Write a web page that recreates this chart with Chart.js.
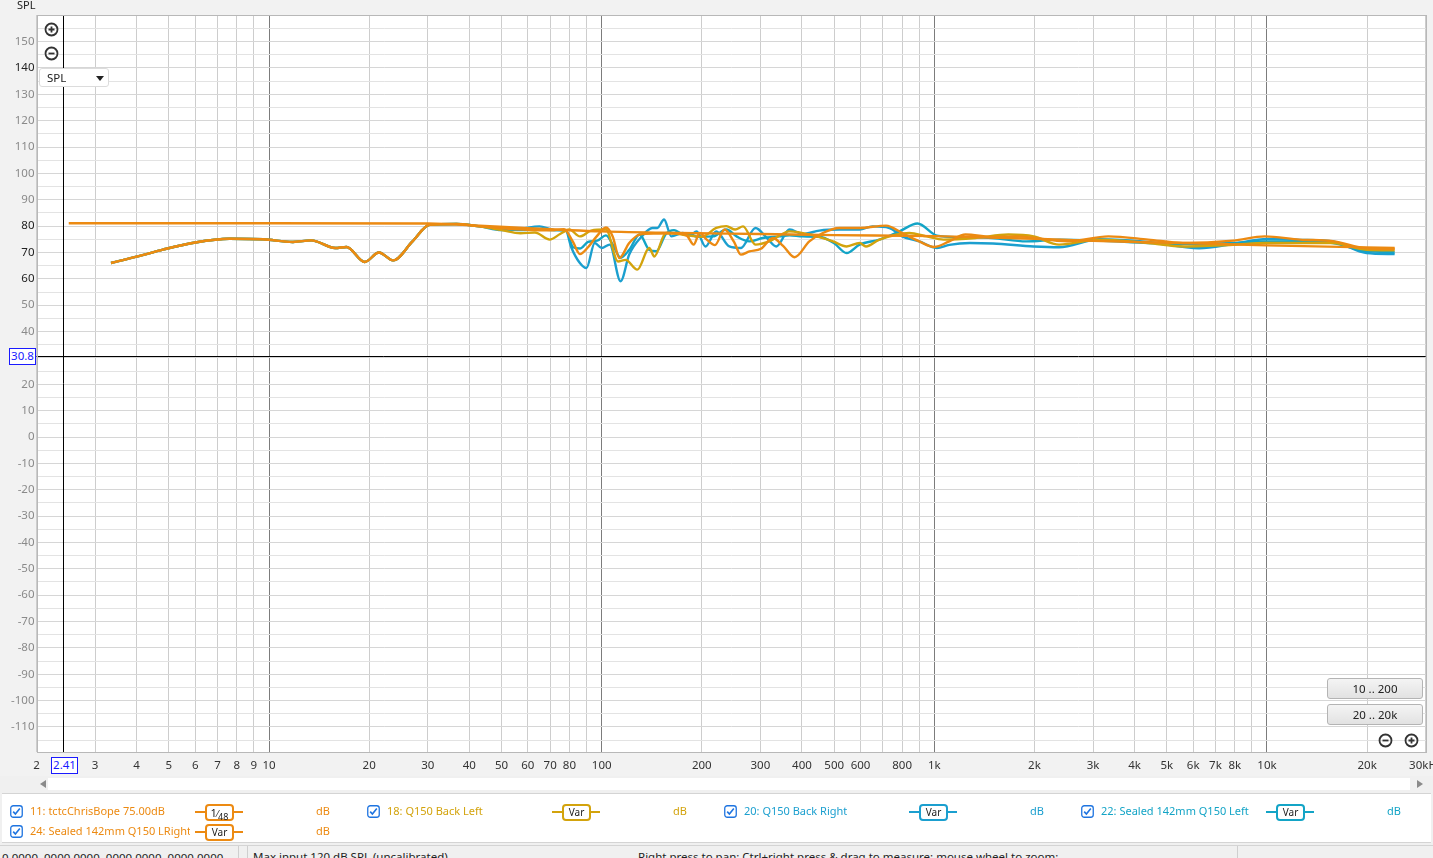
<!DOCTYPE html>
<html>
<head>
<meta charset="utf-8">
<script src="https://cdn.jsdelivr.net/npm/chart.js@4.4.1/dist/chart.umd.min.js"></script>
<style>
  html, body { margin: 0; padding: 0; }
  body { width: 1433px; height: 858px; overflow: hidden; background: #f0f0f0; position: relative;
         font-family: "Noto Sans", "Open Sans", sans-serif; font-size: 11px; color: #222; }
  .abs { position: absolute; }
  #wrap { left: 0; top: 0; width: 1433px; height: 776px; }
  .title { left: 17px; top: -3px; font-size: 11px; }
  .ico { width: 15px; height: 15px; }
  .dropdown { left: 39px; top: 68px; width: 70px; height: 19px; background: #fff; border: 1px solid #dcdcdc;
              border-radius: 3px; box-sizing: border-box; }
  .dropdown span { position: absolute; left: 7px; top: 1px; font-size: 11.5px; }
  .dropdown i { position: absolute; left: 56px; top: 7px; width: 0; height: 0; border-left: 4px solid transparent;
                border-right: 4px solid transparent; border-top: 5px solid #222; }
  .cursorbox { background: #fff; border: 1px solid #1a1aff; color: #1a1aff; box-sizing: border-box;
               text-align: center; font-size: 11.5px; line-height: 14px; }
  .btn { left: 1327px; width: 96px; height: 21px; box-sizing: border-box; border: 1px solid #b4b4b4; border-radius: 3px;
         background: linear-gradient(#f4f4f4, #e2e2e2); text-align: center; line-height: 19px; font-size: 11.5px; }
  .scroll { left: 48px; top: 778px; width: 1362px; height: 12px; background: #fff; }
  .arrow { top: 780px; width: 0; height: 0; border-top: 4px solid transparent; border-bottom: 4px solid transparent; }
  .panel { left: 2px; top: 793px; width: 1429px; height: 48px; background: #fff; border-top: 1px solid #d4d4d4;
           border-bottom: 1px solid #d4d4d4; }
  .chk { width: 13px; height: 13px; }
  .name { white-space: nowrap; overflow: hidden; }
  .stub { height: 2px; }
  .sbox { height: 17px; border: 2px solid; border-radius: 4px; background: #fff; box-sizing: border-box;
          text-align: center; font-size: 10px; line-height: 13px; color: #222; }
  .status { left: 0; top: 845px; width: 1433px; height: 13px; border-top: 1px solid #d4d4d4; background: #f0f0f0; }
  .status span { position: absolute; top: 3px; white-space: nowrap; font-size: 11.5px; }
  .sep { top: 846px; width: 1px; height: 12px; background: #cfcfcf; }
</style>
</head>
<body>
<div id="wrap" class="abs"><canvas id="splChart" width="1433" height="776"></canvas></div>

<div class="abs title">SPL</div>
<svg class="abs ico" style="left:44px;top:22px" viewBox="0 0 15 15"><circle cx="7.5" cy="7.5" r="6" fill="none" stroke="#333" stroke-width="1.8"/><path d="M4.5 7.5h6M7.5 4.5v6" stroke="#333" stroke-width="1.8"/></svg>
<svg class="abs ico" style="left:44px;top:46px" viewBox="0 0 15 15"><circle cx="7.5" cy="7.5" r="6" fill="none" stroke="#333" stroke-width="1.8"/><path d="M4.5 7.5h6" stroke="#333" stroke-width="1.8"/></svg>
<div class="abs dropdown"><span>SPL</span><i></i></div>

<div class="abs cursorbox" style="left:9px;top:348px;width:27px;height:17px">30.8</div>
<div class="abs cursorbox" style="left:51px;top:757px;width:27px;height:17px">2.41</div>

<div class="abs btn" style="top:678px">10 .. 200</div>
<div class="abs btn" style="top:704px">20 .. 20k</div>
<svg class="abs ico" style="left:1378px;top:733px" viewBox="0 0 15 15"><circle cx="7.5" cy="7.5" r="6" fill="none" stroke="#333" stroke-width="1.8"/><path d="M4.5 7.5h6" stroke="#333" stroke-width="1.8"/></svg>
<svg class="abs ico" style="left:1404px;top:733px" viewBox="0 0 15 15"><circle cx="7.5" cy="7.5" r="6" fill="none" stroke="#333" stroke-width="1.8"/><path d="M4.5 7.5h6M7.5 4.5v6" stroke="#333" stroke-width="1.8"/></svg>

<div class="abs scroll"></div>
<div class="abs arrow" style="left:40px;border-right:6px solid #8a8a8a"></div>
<div class="abs arrow" style="left:1417px;border-left:6px solid #8a8a8a"></div>

<div class="abs panel"></div>
<div id="legend"></div>

<div class="abs status">
  <span style="left:2px;top:4px">0.0000, 0000.0000, 0000.0000, 0000.0000</span>
  <span style="left:253px">Max input 120 dB SPL (uncalibrated)</span>
  <span style="left:638px">Right press to pan; Ctrl+right press &amp; drag to measure; mouse wheel to zoom;</span>
</div>
<div class="abs sep" style="left:238px"></div>
<div class="abs sep" style="left:247px"></div>
<div class="abs sep" style="left:1237px"></div>

<script>
// ----------------------------------------------------
// Data
// ----------------------------------------------------
const xTicks = [2, 3, 4, 5, 6, 7, 8, 9, 10, 20, 30, 40, 50, 60, 70, 80, 90, 100, 200, 300, 400, 500, 600, 700, 800, 900,
                1000, 2000, 3000, 4000, 5000, 6000, 7000, 8000, 9000, 10000, 20000, 30000];
const xLabelled = [2, 3, 4, 5, 6, 7, 8, 9, 10, 20, 30, 40, 50, 60, 70, 80, 100, 200, 300, 400, 500, 600, 800,
                   1000, 2000, 3000, 4000, 5000, 6000, 7000, 8000, 10000, 20000, 30000];
const yLabels = [150, 140, 130, 120, 110, 100, 90, 80, 70, 60, 50, 40, 20, 10, 0, -10, -20, -30, -40, -50,
                 -60, -70, -80, -90, -100, -110];
const yDarkLabels = [140, 80, 70, 60];

// low end shared by all four measurements (sub region)
const lfFreq = [3.35, 4, 4.8, 6, 7.6, 9.6, 11.8, 13.4, 15.8, 17.1, 19.4, 21.4, 23.6, 27, 30.4, 36.6];
const lfDb   = [66.0, 68.4, 71.1, 73.8, 75.2, 75.0, 74.0, 74.6, 71.7, 72.1, 66.4, 70.0, 67.0, 74.2, 80.5, 80.8];

// 11: tctcChrisBope 75.00dB
const s11Freq = [2.5, 10, 30, 43, 60, 100, 171, 300, 500, 1000, 1366, 2000, 3000, 5500, 10000, 24200];
const s11Db   = [81.1, 81.1, 81.0, 80.2, 79.2, 78.0, 77.4, 77.0, 76.6, 76.2, 75.8, 75.2, 74.4, 73.6, 72.7, 71.7];

// 24: Sealed 142mm Q150 LRight
const s24Freq = [43, 50, 60, 70, 77, 82, 86, 91, 96.6, 103, 108, 113, 121, 130, 145, 165, 180, 189, 197, 207, 219,
                 234, 250, 262, 278, 301, 327, 351, 380, 421, 462, 518, 596, 716, 800, 901, 1000, 1109, 1240, 1500,
                 1770, 2513, 3337, 4392, 5590, 7921, 9840, 12560, 15780, 19900, 24200];
const s24Db   = [79.9, 79.2, 78.6, 78.4, 78.8, 74.0, 69.4, 72.0, 76.1, 79.5, 76.0, 67.9, 73.6, 76.8, 77.2, 77.3, 76.5,
                 73.0, 77.4, 74.9, 72.8, 78.7, 74.0, 69.2, 70.4, 71.4, 75.5, 72.5, 68.2, 74.2, 77.4, 79.3, 79.3, 80.2,
                 77.4, 74.2, 72.1, 74.2, 76.8, 75.9, 76.1, 74.2, 76.1, 74.9, 73.6, 74.5, 76.1, 74.9, 74.3, 71.6, 71.3];

// 18: Q150 Back Left
const s18Freq = [43, 50, 57, 63, 69.8, 75, 80, 86, 93, 103, 112, 118, 128, 139, 144, 156, 171, 181, 200, 221, 237,
                 252, 266, 290, 319, 367, 432, 496, 545, 596, 623, 684, 841, 947, 1066, 1330, 1670, 1990, 2372, 3126,
                 4392, 5590, 7921, 9840, 15780, 19900, 24200];
const s18Db   = [79.9, 78.5, 77.3, 77.6, 74.9, 77.0, 78.7, 76.1, 78.3, 78.7, 66.6, 67.2, 63.5, 71.7, 68.5, 77.4, 77.0,
                 76.5, 76.0, 79.3, 80.0, 78.7, 79.9, 73.0, 74.2, 78.0, 76.5, 74.2, 72.3, 73.6, 72.3, 74.9, 77.4, 76.1,
                 74.9, 75.5, 76.8, 76.1, 73.0, 74.9, 73.6, 72.3, 72.9, 73.6, 73.6, 71.0, 70.8];

// 20: Q150 Back Right
const s20Freq = [43, 50, 57, 65, 72, 78, 81, 86, 90, 95.3, 100, 105.7, 114, 121, 132, 142, 147, 154, 162, 175, 184,
                 193, 205, 221, 242, 262, 290, 314, 335, 367, 402, 451, 518, 596, 652, 733, 800, 901, 1018, 1109,
                 1280, 1500, 1990, 2372, 3126, 4392, 6250, 7962, 10000, 12560, 15780, 19900, 24200];
const s20Db   = [79.9, 78.5, 79.0, 79.9, 78.5, 78.3, 72.0, 66.0, 64.1, 73.6, 71.7, 73.0, 59.1, 69.2, 76.1, 79.3, 79.3,
                 82.5, 76.1, 77.4, 76.5, 78.0, 72.3, 78.0, 72.3, 71.7, 79.3, 75.5, 72.3, 78.7, 77.0, 78.3, 78.7, 78.7,
                 79.9, 79.3, 76.1, 74.2, 71.7, 72.9, 73.6, 73.4, 72.3, 72.0, 75.0, 74.0, 71.6, 73.3, 75.1, 74.8, 74.2,
                 69.8, 69.4];

// 22: Sealed 142mm Q150 Left
const s22Freq = [43, 50, 57, 65, 72, 78, 82, 86, 91, 97, 103, 108, 114, 121, 130, 139, 146, 156, 165, 175, 184, 193,
                 216, 237, 255, 278, 305, 342, 367, 402, 451, 500, 545, 596, 684, 785, 890, 1018, 1189, 1490, 1890,
                 2372, 3126, 4392, 5590, 7921, 9840, 12560, 15780, 19900, 24200];
const s22Db   = [79.9, 79.0, 78.5, 78.8, 78.5, 78.5, 72.0, 71.5, 74.0, 74.5, 76.5, 73.0, 68.0, 71.0, 76.8, 71.0, 70.5,
                 77.0, 78.5, 77.0, 77.0, 76.0, 76.1, 78.7, 76.0, 74.2, 75.5, 76.1, 76.5, 76.1, 76.0, 73.5, 69.8, 73.0,
                 74.9, 78.0, 81.0, 76.4, 75.8, 75.5, 74.2, 74.9, 74.5, 73.6, 73.2, 73.6, 74.2, 74.2, 73.6, 70.5, 70.1];

const ORANGE = '#ec8a12';
const GOLD = '#d3a30c';
const BLUE = '#1b9fcf';
const BLUE2 = '#13a4c6';

document.addEventListener('DOMContentLoaded', () => {

    // ----------------------------------------------------
    // 1. Legend strip (REW style measurement list)
    // ----------------------------------------------------
    const legendItems = [
        { label: '11: tctcChrisBope 75.00dB', color: ORANGE, smooth: '1/48', x: 10, y: 812 },
        { label: '18: Q150 Back Left', color: GOLD, smooth: 'Var', x: 367, y: 812 },
        { label: '20: Q150 Back Right', color: BLUE, smooth: 'Var', x: 724, y: 812 },
        { label: '22: Sealed 142mm Q150 Left', color: BLUE2, smooth: 'Var', x: 1081, y: 812 },
        { label: '24: Sealed 142mm Q150 LRight', color: ORANGE, smooth: 'Var', x: 10, y: 832 }
    ];
    const legend = document.getElementById('legend');
    legendItems.forEach(item => {
        const chk = `<svg class="abs chk" style="left:${item.x}px;top:${item.y - 7}px" viewBox="0 0 13 13">
            <rect x="0.75" y="0.75" width="11.5" height="11.5" rx="2.5" fill="#fff" stroke="#1e74e0" stroke-width="1.3"/>
            <path d="M3.2 6.6l2.2 2.4 4.4-5.4" fill="none" stroke="#1e74e0" stroke-width="1.6"/></svg>`;
        const name = `<div class="abs name" style="left:${item.x + 20}px;top:${item.y - 9}px;width:160px;color:${item.color}">${item.label}</div>`;
        const bx = item.x + 185;
        const stub = `<div class="abs stub" style="left:${bx}px;top:${item.y - 1}px;width:48px;background:${item.color}"></div>`;
        const txt = item.smooth === '1/48'
            ? '<span style="font-size:11px">1</span><span style="font-size:9px">&#8260;</span><span style="font-size:9px;position:relative;top:3px">48</span>'
            : 'Var';
        const box = `<div class="abs sbox" style="left:${bx + 10}px;top:${item.y - 8}px;width:29px;border-color:${item.color}">${txt}</div>`;
        const unit = `<div class="abs" style="left:${item.x + 306}px;top:${item.y - 9}px;color:${item.color}">dB</div>`;
        legend.insertAdjacentHTML('beforeend', chk + name + stub + box + unit);
    });

    // ----------------------------------------------------
    // 2. Chart.js SPL graph
    // ----------------------------------------------------
    Chart.defaults.font.family = "'Noto Sans', 'Open Sans', sans-serif";

    const toPoints = (freqs, dbs) => freqs.map((f, i) => ({ x: f, y: dbs[i] }));
    const measured = (freqs, dbs) => toPoints(lfFreq.concat(freqs), lfDb.concat(dbs));

    const line = (label, data, color) => ({
        label, data,
        borderColor: color,
        borderWidth: 2.4,
        pointRadius: 0,
        fill: false,
        cubicInterpolationMode: 'monotone'
    });

    // Background, plot frame and cursor cross-hair
    const rewFrame = {
        id: 'rewFrame',
        beforeDraw(chart) {
            const { ctx, chartArea: a } = chart;
            ctx.save();
            ctx.fillStyle = '#f2f2f2';
            ctx.fillRect(0, 0, chart.width, chart.height);
            ctx.fillStyle = '#ffffff';
            ctx.fillRect(a.left, a.top, a.right - a.left, a.bottom - a.top);
            ctx.restore();
        },
        beforeDatasetsDraw(chart) {
            const { ctx, chartArea: a, scales } = chart;
            const cx = Math.round(scales.x.getPixelForValue(2.41)) + 0.5;
            const cy = Math.round(scales.y.getPixelForValue(30.8)) + 0.5;
            ctx.save();
            ctx.strokeStyle = '#000';
            ctx.lineWidth = 1;
            ctx.beginPath();
            ctx.moveTo(cx, a.top); ctx.lineTo(cx, a.bottom);
            ctx.moveTo(a.left, cy); ctx.lineTo(a.right, cy);
            ctx.stroke();
            ctx.restore();
        },
        afterDraw(chart) {
            const { ctx, chartArea: a } = chart;
            ctx.save();
            ctx.strokeStyle = '#b8b8b8';
            ctx.lineWidth = 1;
            ctx.strokeRect(Math.round(a.left) + 0.5, Math.round(a.top) + 0.5,
                           Math.round(a.right - a.left), Math.round(a.bottom - a.top));
            ctx.restore();
        }
    };

    const ctx = document.getElementById('splChart');
    new Chart(ctx, {
        type: 'line',
        data: {
            datasets: [
                line('24: Sealed 142mm Q150 LRight', measured(s24Freq, s24Db), ORANGE),
                line('11: tctcChrisBope 75.00dB', toPoints(s11Freq, s11Db), ORANGE),
                line('18: Q150 Back Left', measured(s18Freq, s18Db), GOLD),
                line('22: Sealed 142mm Q150 Left', measured(s22Freq, s22Db), BLUE2),
                line('20: Q150 Back Right', measured(s20Freq, s20Db), BLUE)
            ]
        },
        options: {
            responsive: false,
            animation: false,
            devicePixelRatio: 1,
            events: [],
            layout: { padding: { top: 15, right: 7.3, left: 0, bottom: 0 } },
            plugins: { legend: { display: false }, tooltip: { enabled: false } },
            scales: {
                x: {
                    type: 'logarithmic',
                    min: 2,
                    max: 30000,
                    afterBuildTicks: s => { s.ticks = xTicks.map(v => ({ value: v })); },
                    afterFit: s => { s.height = 24; s.paddingLeft = 0; s.paddingRight = 0; },
                    border: { display: false },
                    grid: {
                        drawTicks: false,
                        color: c => [10, 100, 1000, 10000].includes(c.tick.value) ? '#7c7c7c' : '#cdcdcd'
                    },
                    ticks: {
                        autoSkip: false,
                        maxRotation: 0,
                        padding: 7,
                        color: '#333',
                        font: { size: 11.5 },
                        callback: v => {
                            if (!xLabelled.includes(v)) return '';
                            if (v === 30000) return '30kHz';
                            return v >= 1000 ? (v / 1000) + 'k' : String(v);
                        }
                    }
                },
                y: {
                    type: 'linear',
                    min: -119.5,
                    max: 160.1,
                    afterBuildTicks: s => {
                        const t = [];
                        for (let v = -115; v <= 160; v += 5) t.push({ value: v });
                        s.ticks = t;
                    },
                    afterFit: s => { s.width = 36.5; s.paddingTop = 0; s.paddingBottom = 0; },
                    border: { display: false },
                    grid: {
                        drawTicks: false,
                        color: c => c.tick.value % 10 === 0 ? '#d6d6d6' : '#e3e3e3'
                    },
                    ticks: {
                        autoSkip: false,
                        padding: 2,
                        font: { size: 11.5 },
                        color: c => yDarkLabels.includes(c.tick.value) ? '#222' : '#8a8a8a',
                        callback: v => yLabels.includes(v) ? String(v) : ''
                    }
                }
            }
        },
        plugins: [rewFrame]
    });
});
</script>
</body>
</html>
